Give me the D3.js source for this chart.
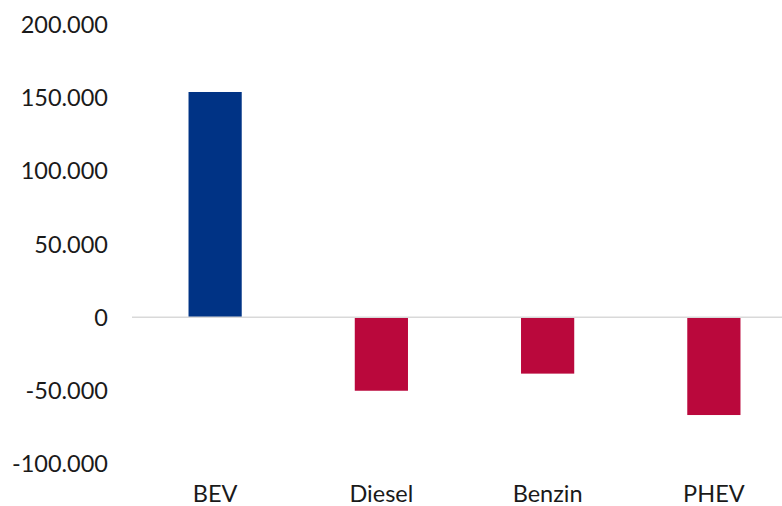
<!DOCTYPE html>
<html><head><meta charset="utf-8">
<script src="https://cdn.jsdelivr.net/npm/d3@7"></script>
<style>html,body{margin:0;padding:0;background:#fff;overflow:hidden}</style>
</head><body>
<svg id="c" width="782" height="506"></svg>
<script>
const categories = ["BEV", "Diesel", "Benzin", "PHEV"];
const values = [154000, -50200, -38500, -66800];
const tickValues = [-100000, -50000, 0, 50000, 100000, 150000, 200000];
const barColors = ["#003385", "#BA083C", "#BA083C", "#BA083C"];

const svg = d3.select("#c");
const x = d3.scaleBand().domain(categories).range([132, 797]).paddingInner(0.68).paddingOuter(0.34);
const y = d3.scaleLinear().domain([-100000, 200000]).range([463.6, 24.7]);
const fmt = v => d3.format(",")(v).replace(/,/g, ".").replace(/\u2212/g, "-");

// y labels
svg.append("g").selectAll("text").data(tickValues).join("text")
  .attr("x", 108).attr("y", d => y(d)).attr("dy", "0.36em")
  .attr("text-anchor", "end")
  .style("font-family", "Lato").style("font-size", "23.5px").style("fill", "#1a1a1a")
  .text(d => fmt(d));

// bars
svg.append("g").selectAll("rect").data(values).join("rect")
  .attr("x", (d, i) => x(categories[i]))
  .attr("width", x.bandwidth())
  .attr("y", d => y(Math.max(0, d)))
  .attr("height", d => Math.abs(y(d) - y(0)))
  .attr("fill", (d, i) => barColors[i]);

// zero line
svg.append("line").attr("x1", 132).attr("x2", 782)
  .attr("y1", y(0)).attr("y2", y(0))
  .attr("stroke", "#d9d9d9").attr("stroke-width", 1.5);

// category labels
svg.append("g").selectAll("text").data(categories).join("text")
  .attr("x", d => x(d) + x.bandwidth() / 2).attr("y", 502)
  .attr("text-anchor", "middle")
  .style("font-family", "Lato").style("font-size", "23.5px").style("fill", "#1a1a1a")
  .text(d => d);
</script>
</body></html>
